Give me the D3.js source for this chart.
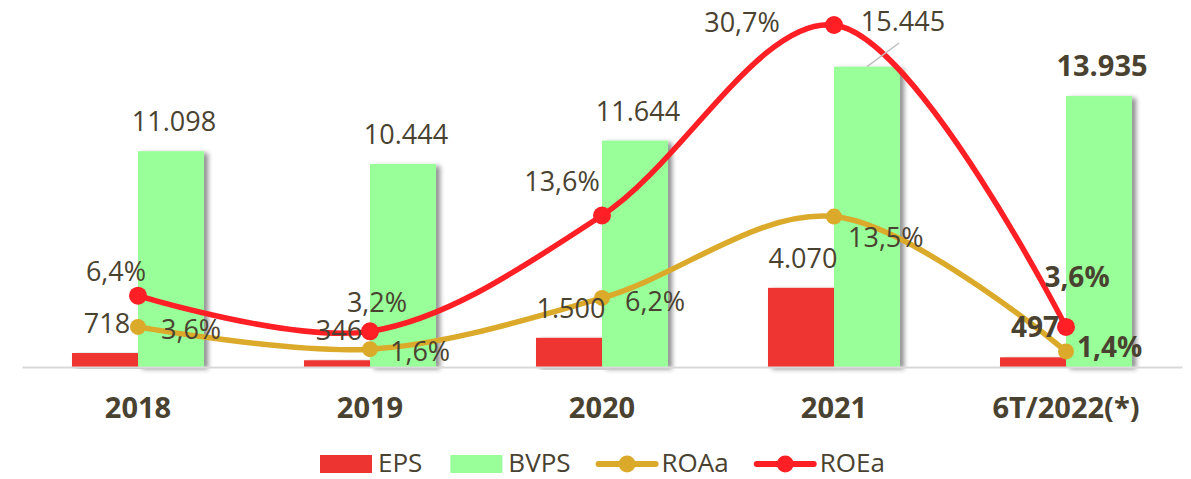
<!DOCTYPE html>
<html>
<head>
<meta charset="utf-8">
<title>EPS BVPS ROAa ROEa</title>
<script src="https://cdn.jsdelivr.net/npm/d3@7"></script>
<style>
  body { margin: 0; background: #fff; }
  text { font-family: "Open Sans", sans-serif; fill: #4a4230; }
</style>
</head>
<body>
<script>
// data
const categories = ["2018", "2019", "2020", "2021", "6T/2022(*)"];
const eps  = [718, 346, 1500, 4070, 497];
const bvps = [11098, 10444, 11644, 15445, 13935];
const roaa = [3.6, 1.6, 6.2, 13.5, 1.4];
const roea = [6.4, 3.2, 13.6, 30.7, 3.6];

// label nudges (layout only)
const roeaOffset = [[-22, -15], [7, -19], [-40, -24], [-92, 7], [11, -40]];
const roaaOffset = [[23, 12], [20, 12], [23, 13], [14, 30], [11, 6]];

const w = 1191, h = 479;
const base = 367;

const loc = d3.formatLocale({ decimal: ",", thousands: ".", grouping: [3], currency: ["", ""] });
const fmtNum = loc.format(",");
const fmtPct = v => loc.format(".1f")(v) + "%";

const colEps = "#ee3431", colBvps = "#99ff99", colRoa = "#dcaa2a", colRoe = "#ff1f24";

const svg = d3.select("body").append("svg")
  .attr("width", w).attr("height", h);

const defs = svg.append("defs");
defs.append("filter").attr("id", "shadow")
  .attr("x", "-20%").attr("y", "-5%").attr("width", "150%").attr("height", "115%")
  .append("feDropShadow")
  .attr("dx", 4).attr("dy", 2).attr("stdDeviation", 2.5)
  .attr("flood-color", "#000").attr("flood-opacity", 0.45);

const x0 = d3.scaleBand().domain(categories).range([22, 1182])
  .paddingInner(0.431).paddingOuter(0.2155);
const x1 = d3.scaleBand().domain(["EPS", "BVPS"]).range([0, x0.bandwidth()]);
const cx = c => x0(c) + x0.bandwidth() / 2;

const y = d3.scaleLinear().domain([0, 18000]).range([base, base - 350]);
const y2 = d3.scaleLinear().domain([0, 30]).range([base, base - 334.2]);

// bars
const rows = categories.map((c, i) => ({ c, i, eps: eps[i], bvps: bvps[i] }));

svg.append("g").selectAll("rect.eps").data(rows).enter().append("rect")
  .attr("x", d => x0(d.c) + x1("EPS"))
  .attr("y", d => y(d.eps))
  .attr("width", x1.bandwidth())
  .attr("height", d => base - y(d.eps))
  .attr("fill", colEps)
  .attr("filter", "url(#shadow)");

svg.append("g").selectAll("rect.bvps").data(rows).enter().append("rect")
  .attr("x", d => x0(d.c) + x1("BVPS"))
  .attr("y", d => y(d.bvps))
  .attr("width", x1.bandwidth())
  .attr("height", d => base - y(d.bvps))
  .attr("fill", colBvps)
  .attr("filter", "url(#shadow)");

// axis line
const xAxis = svg.append("g").attr("transform", `translate(0,${base})`)
  .call(d3.axisBottom(x0).tickSize(0).tickPadding(30));
xAxis.select(".domain").attr("stroke", "#d9d9d9").attr("stroke-width", 2);
xAxis.selectAll("text")
  .style("font-family", "'Open Sans', sans-serif")
  .style("font-size", "29px").style("font-weight", "bold")
  .attr("fill", "#4a4230");

// lines
const line = s => d3.line()
  .x((d, i) => cx(categories[i]))
  .y(d => s(d))
  .curve(d3.curveCatmullRom.alpha(0.5));

function series(vals, color, r) {
  svg.append("path").datum(vals)
    .attr("d", line(y2))
    .attr("fill", "none").attr("stroke", color)
    .attr("stroke-width", 5.5).attr("stroke-linecap", "round");
  svg.append("g").selectAll("circle").data(vals).enter().append("circle")
    .attr("cx", (d, i) => cx(categories[i]))
    .attr("cy", d => y2(d))
    .attr("r", r).attr("fill", color);
}
series(roaa, colRoa, 8);
series(roea, colRoe, 9);

// data labels
const labels = svg.append("g").style("font-size", "27px");
const isLast = i => i === categories.length - 1;
const bvpsMid = c => x0(c) + x1("BVPS") + x1.bandwidth() / 2;

labels.selectAll("text.eps").data(rows).enter().append("text")
  .attr("x", d => x0(d.c) + x1("EPS") + x1.bandwidth() / 2 + 2)
  .attr("y", d => y(d.eps) - 20)
  .attr("text-anchor", "middle")
  .style("font-weight", d => isLast(d.i) ? "bold" : "normal")
  .style("font-size", d => isLast(d.i) ? "28px" : null)
  .text(d => fmtNum(d.eps));

labels.selectAll("text.bvps").data(rows).enter().append("text")
  .attr("x", d => d.i === 3 ? bvpsMid(d.c) + 36 : bvpsMid(d.c) + 3)
  .attr("y", d => d.i === 3 ? 31 : y(d.bvps) - 20)
  .attr("text-anchor", "middle")
  .style("font-weight", d => isLast(d.i) ? "bold" : "normal")
  .style("font-size", d => isLast(d.i) ? "29px" : null)
  .text(d => fmtNum(d.bvps));

// leader line for 2021 BVPS label
svg.append("line")
  .attr("x1", bvpsMid("2021")).attr("y1", y(bvps[3]))
  .attr("x2", bvpsMid("2021") + 32).attr("y2", 43)
  .attr("stroke", "#bfbfbf").attr("stroke-width", 1.5);

labels.selectAll("text.roa").data(roaa).enter().append("text")
  .attr("x", (d, i) => cx(categories[i]) + roaaOffset[i][0])
  .attr("y", (d, i) => y2(d) + roaaOffset[i][1])
  .attr("text-anchor", "start")
  .style("font-weight", (d, i) => isLast(i) ? "bold" : "normal")
  .style("font-size", (d, i) => isLast(i) ? "28px" : null)
  .text(d => fmtPct(d));

labels.selectAll("text.roe").data(roea).enter().append("text")
  .attr("x", (d, i) => cx(categories[i]) + roeaOffset[i][0])
  .attr("y", (d, i) => y2(d) + roeaOffset[i][1])
  .attr("text-anchor", "middle")
  .style("font-weight", (d, i) => isLast(i) ? "bold" : "normal")
  .style("font-size", (d, i) => isLast(i) ? "28px" : null)
  .text(d => fmtPct(d));

// legend
const legendItems = [
  { name: "EPS", type: "rect", color: colEps },
  { name: "BVPS", type: "rect", color: colBvps },
  { name: "ROAa", type: "line", color: colRoa },
  { name: "ROEa", type: "line", color: colRoe }
];
const legend = svg.append("g").style("font-size", "26px");
let lx = 320;
const ly = 464;
legendItems.forEach(it => {
  if (it.type === "rect") {
    legend.append("rect").attr("x", lx).attr("y", ly - 9)
      .attr("width", 52).attr("height", 18).attr("fill", it.color);
  } else {
    legend.append("line").attr("x1", lx).attr("x2", lx + 57)
      .attr("y1", ly).attr("y2", ly)
      .attr("stroke", it.color).attr("stroke-width", 6).attr("stroke-linecap", "round");
    legend.append("circle").attr("cx", lx + 28.5).attr("cy", ly).attr("r", 8.5).attr("fill", it.color);
  }
  const mw = it.type === "rect" ? 52 : 57;
  const t = legend.append("text").attr("x", lx + mw + 6).attr("y", ly + 8).text(it.name);
  lx += mw + 6 + t.node().getComputedTextLength() + 28;
});
</script>
</body>
</html>
